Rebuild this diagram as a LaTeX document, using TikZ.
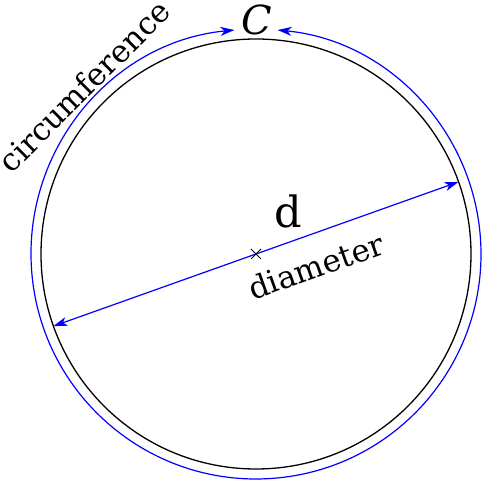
\documentclass[tikz,border=0pt]{standalone}
\usepackage{fontspec}
\setmainfont{DejaVu Serif}
\usetikzlibrary{arrows.meta}

\begin{document}
\begin{tikzpicture}[x=1pt, y=1pt, >={Stealth[length=14pt, width=9pt, inset=4pt]},
        every node/.style={inner sep=0pt},
        blueline/.style={blue, line width=1.2pt},
        word/.style={font=\fontsize{31}{31}\selectfont}]
        \useasboundingbox (0,0) rectangle (482,481);
        \coordinate (O) at (256,227);
        \coordinate (arcL) at ([shift={(95.5:225)}]O);
        \coordinate (dA) at ([shift={(199.6:215)}]O);
        \coordinate (dB) at ([shift={(19.6:215)}]O);

        % the circle and its circumference
        \draw[line width=1.3pt] (O) circle[radius=215];
        \draw[blueline, <->] (arcL) arc[start angle=95.5, end angle=444.5, radius=225];

        % the diameter
        \draw[blueline, <->] (dA) -- (dB);
        \draw[line width=1pt] ([shift={(-5,-5)}]O) -- ([shift={(5,5)}]O)
            ([shift={(-5,5)}]O) -- ([shift={(5,-5)}]O);

        \node[font=\fontsize{40}{40}\selectfont\itshape] (C) at (257,461) {C};
        \node[font=\fontsize{43}{43}\selectfont] (d) at (288,270) {d};
        \node[word, rotate=19.6] (diam) at (316,215) {diameter};
        \node[word, rotate=45] (circ) at (84,395) {circumference};
    \end{tikzpicture}
\end{document}
